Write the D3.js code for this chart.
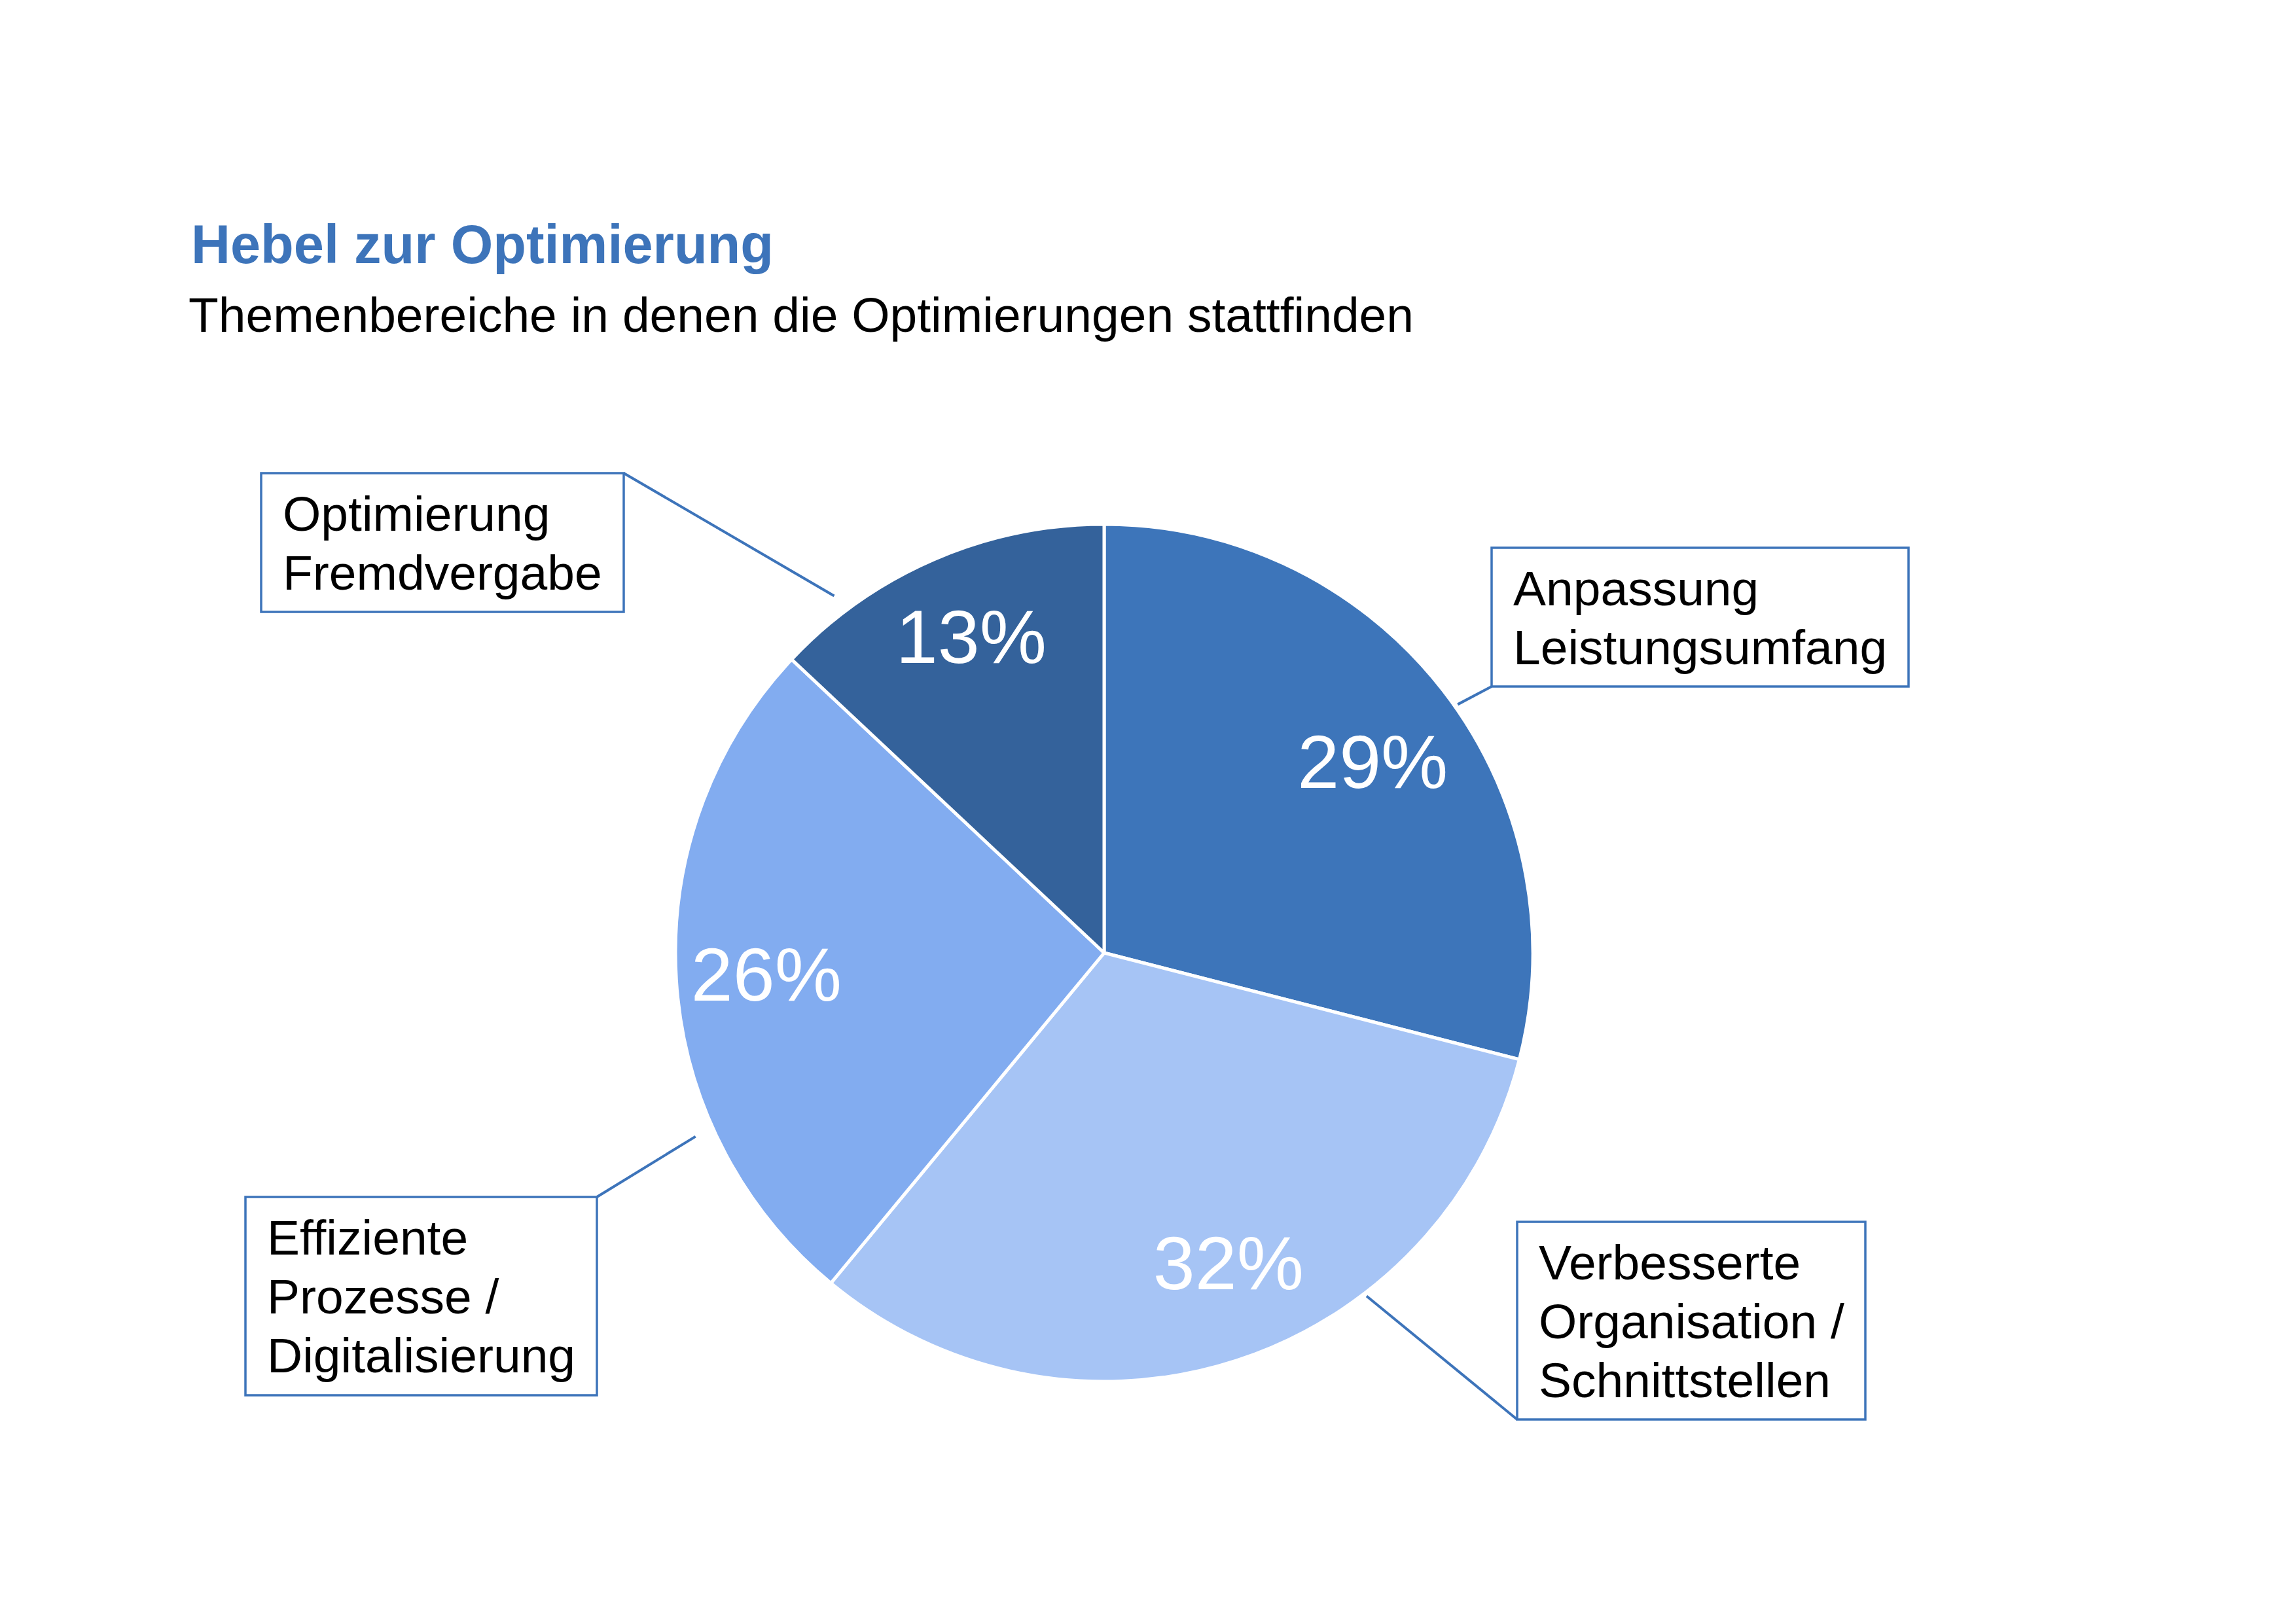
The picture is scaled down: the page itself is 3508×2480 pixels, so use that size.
<!DOCTYPE html>
<html>
<head>
<meta charset="utf-8">
<script src="https://cdn.jsdelivr.net/npm/d3@7"></script>
<style>
  html, body { margin: 0; padding: 0; background: #fff; }
  svg { display: block; }
</style>
</head>
<body>
<div id="chart"></div>
<script>
// Data
const categories = [
  "Anpassung Leistungsumfang",
  "Verbesserte Organisation / Schnittstellen",
  "Effiziente Prozesse / Digitalisierung",
  "Optimierung Fremdvergabe"
]
const shares = [29, 32, 26, 13]
const labelLines = [
  ["Anpassung", "Leistungsumfang"],
  ["Verbesserte", "Organisation /", "Schnittstellen"],
  ["Effiziente", "Prozesse /", "Digitalisierung"],
  ["Optimierung", "Fremdvergabe"]
]

const COLORS = ["#3D75BA", "#A6C4F5", "#82ACF0", "#34629B"]
const BORDER = "#3D74BA"
const FONT = "'Liberation Sans', Arial, Helvetica, sans-serif"

// Callout boxes (layout only) and where their leaders touch the pie (angle in deg, radius factor)
const BOXES = [
  { x: 2279, y: 837,  w: 637, h: 212, corner: "bl", angle: 54.9,  rf: 1.008 },
  { x: 2318, y: 1867, w: 532, h: 302, corner: "bl", angle: 142.6, rf: 1.008 },
  { x: 375,  y: 1829, w: 537, h: 303, corner: "tr", angle: 245.8, rf: 1.045 },
  { x: 399,  y: 723,  w: 554, h: 212, corner: "tr", angle: 322.9, rf: 1.044 }
]
// small nudges for the percentage labels
const NUDGE = [[4, 22], [31, -16], [-3, 0], [1, -12]]

const width = 3508
const height = 2480
const cx = 1687
const cy = 1456
const radius = 655

const svg = d3.select("#chart").append("svg")
  .attr("width", width)
  .attr("height", height)
  .attr("viewBox", `0 0 ${width} ${height}`)

svg.append("rect")
  .attr("width", width)
  .attr("height", height)
  .attr("fill", "#fff")

// Titles
svg.append("text")
  .attr("x", 292)
  .attr("y", 402)
  .attr("font-family", FONT)
  .attr("font-size", 83)
  .attr("font-weight", "bold")
  .attr("fill", BORDER)
  .text("Hebel zur Optimierung")

svg.append("text")
  .attr("x", 288)
  .attr("y", 507)
  .attr("font-family", FONT)
  .attr("font-size", 75)
  .attr("fill", "#000")
  .text("Themenbereiche in denen die Optimierungen stattfinden")

// Pie
const pie = d3.pie().sort(null).value(d => d)
const arcs = pie(shares)
const arc = d3.arc().innerRadius(0).outerRadius(radius)
const labelArc = d3.arc().innerRadius(radius * 0.785).outerRadius(radius * 0.785)

const g = svg.append("g").attr("transform", `translate(${cx},${cy})`)

g.selectAll("path.slice")
  .data(arcs)
  .enter().append("path")
  .attr("class", "slice")
  .attr("d", arc)
  .attr("fill", (d, i) => COLORS[i])
  .attr("stroke", "#fff")
  .attr("stroke-width", 5)
  .attr("stroke-linejoin", "round")

const pctSize = 115
g.selectAll("text.pct")
  .data(arcs)
  .enter().append("text")
  .attr("class", "pct")
  .attr("x", (d, i) => labelArc.centroid(d)[0] + NUDGE[i][0])
  .attr("y", (d, i) => labelArc.centroid(d)[1] + NUDGE[i][1] + pctSize * 0.358)
  .attr("text-anchor", "middle")
  .attr("font-family", FONT)
  .attr("font-size", pctSize)
  .attr("fill", "#fff")
  .text(d => d.data + "%")

// Leader lines
const polar = (deg, r) => {
  const a = deg * Math.PI / 180
  return [cx + Math.sin(a) * r, cy - Math.cos(a) * r]
}

svg.append("g")
  .selectAll("line")
  .data(BOXES)
  .enter().append("line")
  .attr("x1", b => b.corner === "tr" ? b.x + b.w : b.x)
  .attr("y1", b => b.corner === "tr" ? b.y : b.y + b.h)
  .attr("x2", b => polar(b.angle, radius * b.rf)[0])
  .attr("y2", b => polar(b.angle, radius * b.rf)[1])
  .attr("stroke", BORDER)
  .attr("stroke-width", 4)

// Callout boxes with labels
const box = svg.append("g")
  .selectAll("g")
  .data(BOXES)
  .enter().append("g")
  .attr("transform", b => `translate(${b.x},${b.y})`)

box.append("rect")
  .attr("width", b => b.w)
  .attr("height", b => b.h)
  .attr("fill", "#fff")
  .attr("stroke", BORDER)
  .attr("stroke-width", 3.5)

box.append("text")
  .attr("font-family", FONT)
  .attr("font-size", 75)
  .attr("fill", "#000")
  .each(function(b, i) {
    d3.select(this).selectAll("tspan")
      .data(labelLines[i])
      .enter().append("tspan")
      .attr("x", 33)
      .attr("y", (t, j) => 88 + j * 90)
      .text(t => t)
  })
  .append("title").text((b, i) => categories[i])
</script>
</body>
</html>
